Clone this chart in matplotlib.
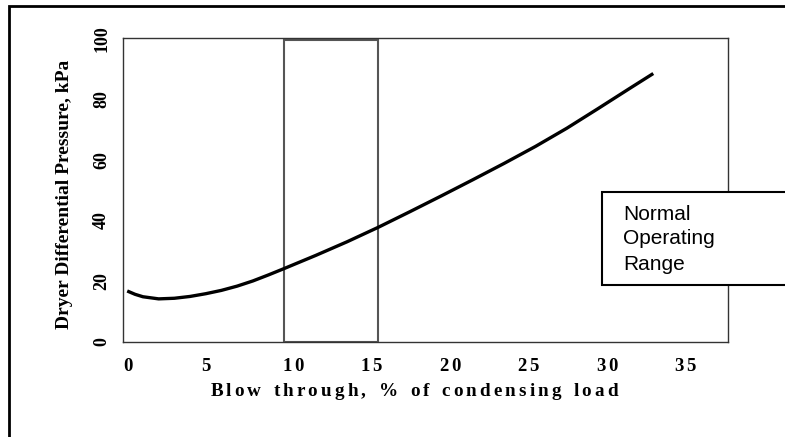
import matplotlib
matplotlib.use("Agg")
import matplotlib.pyplot as plt
from matplotlib.patches import Rectangle
from matplotlib.transforms import ScaledTranslation

# данные кривой
blow_through = [0, 0.5, 1, 2, 3, 4, 5, 6, 7, 8, 9, 10, 12, 14, 16, 18, 20, 22, 24, 26, 28, 30, 32, 33.5]
pressure = [16.8, 15.7, 14.9, 14.2, 14.4, 15.0, 15.9, 17.0, 18.4, 20.1, 22.1, 24.2, 28.5, 33.0,
            37.8, 42.9, 48.1, 53.4, 58.8, 64.4, 70.4, 76.9, 83.5, 88.4]

# нормальный рабочий диапазон, %
range_lo, range_hi = 10, 16

x_ticks = [0, 5, 10, 15, 20, 25, 30, 35]
y_ticks = [0, 20, 40, 60, 80, 100]
x_title = "Blow through, % of condensing load"
y_title = "Dryer Differential Pressure, kPa"
box_text = "Normal\nOperating\nRange"

plt.rcParams['mathtext.fontset'] = 'custom'
plt.rcParams['mathtext.rm'] = 'Liberation Serif'
plt.rcParams['mathtext.bf'] = 'Liberation Serif:bold'


def spaced(s):
    # разрядка как в Excel - через тонкие пробелы mathtext
    out = ''
    for i, ch in enumerate(s):
        if ch == ' ':
            out += r'\ '
        elif ch == '%':
            out += r'\%'
        else:
            out += ch
        if i < len(s) - 1 and ch != ',':
            out += r'\,'
    return r'$\mathbf{' + out + '}$'


W, H = 785, 437
fig = plt.figure(figsize=(W / 100, H / 100), dpi=100)
ax = fig.add_axes([123.3 / W, 1 - 342 / H, (728 - 123.3) / W, (342 - 38.3) / H])

ax.plot(blow_through, pressure, color='black', lw=2.4, solid_capstyle='butt')
ax.add_patch(Rectangle((range_lo, 0), range_hi - range_lo, 99.5, fill=False,
                       edgecolor='#555555', lw=1.5))

ax.set_xlim(-0.25, 38.26)
ax.set_ylim(0, 100)
for sp in ax.spines.values():
    sp.set_color('#333333')
    sp.set_linewidth(1.0)

ax.set_xticks(x_ticks)
ax.set_xticklabels([spaced(str(t)) for t in x_ticks], fontsize=13.5)
ax.set_yticks(y_ticks)
ax.set_yticklabels([str(t) for t in y_ticks], fontsize=13, fontfamily='Liberation Serif',
                   fontweight='bold', rotation=90, va='center')
ax.tick_params(axis='x', length=0, pad=10)
ax.tick_params(axis='y', length=0, pad=9.5)

# двузначные подписи в Excel сдвинуты вправо
for t, lab in zip(x_ticks, ax.get_xticklabels()):
    dx = 9 if t >= 10 else 1
    lab.set_transform(lab.get_transform() + ScaledTranslation(dx / 100, 0, fig.dpi_scale_trans))

fig.text(415 / W, 1 - 392 / H, spaced(x_title), ha='center', va='center', fontsize=13.8)
fig.text(65 / W, 1 - 194 / H, y_title, rotation=90, ha='center', va='center',
         fontfamily='Liberation Serif', fontweight='bold', fontsize=14)

# рамка вокруг всей диаграммы (обрезана справа и снизу)
frame = Rectangle((9 / W, -0.2), 2.0, 1 - 5.7 / H + 0.2, transform=fig.transFigure,
                  fill=False, edgecolor='black', lw=2)
fig.add_artist(frame)

# подпись-выноска
box = Rectangle((602 / W, 1 - 285 / H), 0.4, (285 - 192) / H, transform=fig.transFigure,
                facecolor='white', edgecolor='black', lw=1.5, zorder=5)
fig.add_artist(box)
fig.text(623 / W, 1 - 239 / H, box_text, ha='left', va='center', fontfamily='Liberation Sans',
         fontsize=15, linespacing=1.4, zorder=6)

fig.savefig("out.png", dpi=100)
